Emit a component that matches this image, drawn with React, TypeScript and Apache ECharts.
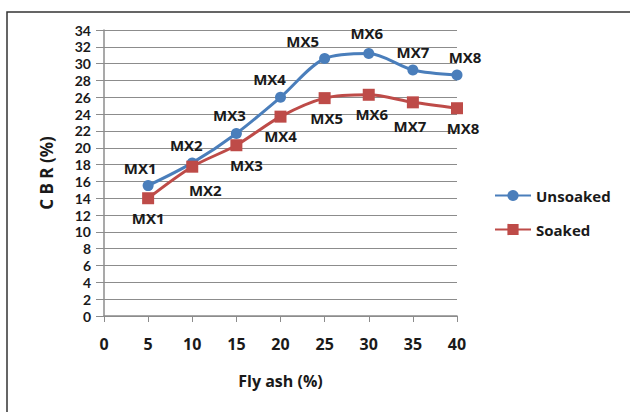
import React, { useEffect, useRef } from "react";
import * as echarts from "echarts";

const flyAsh = [5, 10, 15, 20, 25, 30, 35, 40];
const mixLabels = ["MX1", "MX2", "MX3", "MX4", "MX5", "MX6", "MX7", "MX8"];
const unsoaked = [15.5, 18.2, 21.7, 26.0, 30.6, 31.2, 29.25, 28.65];
const soaked = [14.0, 17.75, 20.3, 23.7, 25.9, 26.3, 25.4, 24.7];

// label nudges (styling only)
const unsoakedLabelOffsets = [[-8, 0], [-6, 0], [-7, 0], [-11, 0], [-22, 0], [-2, -3], [0, 0], [8, 0]];
const soakedLabelOffsets = [[0, 0], [13, 4], [10, 0], [0, 0], [2, 0], [3, 0], [-3, 4], [6, 0]];

const FONT = "'Open Sans'";
const TXT = "#1a1a1a";

export default function App() {
  const ref = useRef<HTMLDivElement>(null);

  useEffect(() => {
    if (!ref.current) return;
    const chart = echarts.init(ref.current, undefined, { renderer: "svg" });

    const mk = (vals: number[], offs: number[][]) =>
      vals.map((v, i) => ({
        value: [flyAsh[i], v],
        name: mixLabels[i],
        label: { offset: offs[i] },
      }));

    const labelStyle = {
      show: true,
      formatter: (p: any) => p.name,
      fontFamily: FONT,
      fontWeight: "bold" as const,
      fontSize: 15,
      color: TXT,
    };

    chart.setOption({
      animation: false,
      backgroundColor: "#ffffff",
      textStyle: { fontFamily: FONT },
      graphic: [
        {
          type: "rect",
          shape: { x: 7, y: 12, width: 640, height: 420 },
          style: { fill: "none", stroke: "#333333", lineWidth: 1.5 },
          silent: true,
        },
      ],
      grid: { left: 104, right: 173, top: 30, bottom: 96 },
      legend: {
        orient: "vertical",
        left: 494,
        top: 188,
        padding: 0,
        itemWidth: 36,
        itemHeight: 14,
        itemGap: 19,
        textStyle: { fontFamily: FONT, fontWeight: "bold", fontSize: 15, color: TXT },
        data: ["Unsoaked", "Soaked"],
      },
      xAxis: {
        type: "value",
        min: 0,
        max: 40,
        interval: 5,
        name: "Fly ash (%)",
        nameLocation: "middle",
        nameGap: 57,
        nameTextStyle: { fontFamily: FONT, fontWeight: "bold", fontSize: 16, color: TXT },
        axisLine: { show: true, lineStyle: { color: "#8c8c8c", width: 1.5 } },
        axisTick: { show: true, length: 6, lineStyle: { color: "#8c8c8c" } },
        axisLabel: { margin: 20, fontFamily: FONT, fontWeight: "bold", fontSize: 16, color: TXT },
        splitLine: { show: false },
      },
      yAxis: {
        type: "value",
        min: 0,
        max: 34,
        interval: 2,
        name: "C B R (%)",
        nameLocation: "middle",
        nameGap: 49,
        nameTextStyle: { fontFamily: FONT, fontWeight: "bold", fontSize: 17, color: TXT },
        axisLine: { show: true, lineStyle: { color: "#8c8c8c", width: 1.5 } },
        axisTick: { show: true, length: 8, lineStyle: { color: "#8c8c8c" } },
        axisLabel: {
          margin: 13,
          fontFamily: "Lato",
          fontWeight: "bold",
          fontSize: 14,
          color: TXT,
        },
        splitLine: { show: true, lineStyle: { color: "#8c8c8c", width: 1.2 } },
      },
      series: [
        {
          name: "Unsoaked",
          type: "line",
          smooth: 0.3,
          data: mk(unsoaked, unsoakedLabelOffsets),
          symbol: "circle",
          symbolSize: 11,
          lineStyle: { color: "#4A7EBB", width: 3 },
          itemStyle: { color: "#4A7EBB" },
          label: { ...labelStyle, position: "top", distance: 5 },
          z: 3,
        },
        {
          name: "Soaked",
          type: "line",
          smooth: 0.3,
          data: mk(soaked, soakedLabelOffsets),
          symbol: "rect",
          symbolSize: 12,
          lineStyle: { color: "#BE4B48", width: 3 },
          itemStyle: { color: "#BE4B48" },
          label: { ...labelStyle, position: "bottom", distance: 6 },
          z: 4,
        },
      ],
    });

    return () => chart.dispose();
  }, []);

  return (
    <div
      ref={ref}
      style={{ position: "fixed", left: 0, top: 0, width: 630, height: 412 }}
    />
  );
}
